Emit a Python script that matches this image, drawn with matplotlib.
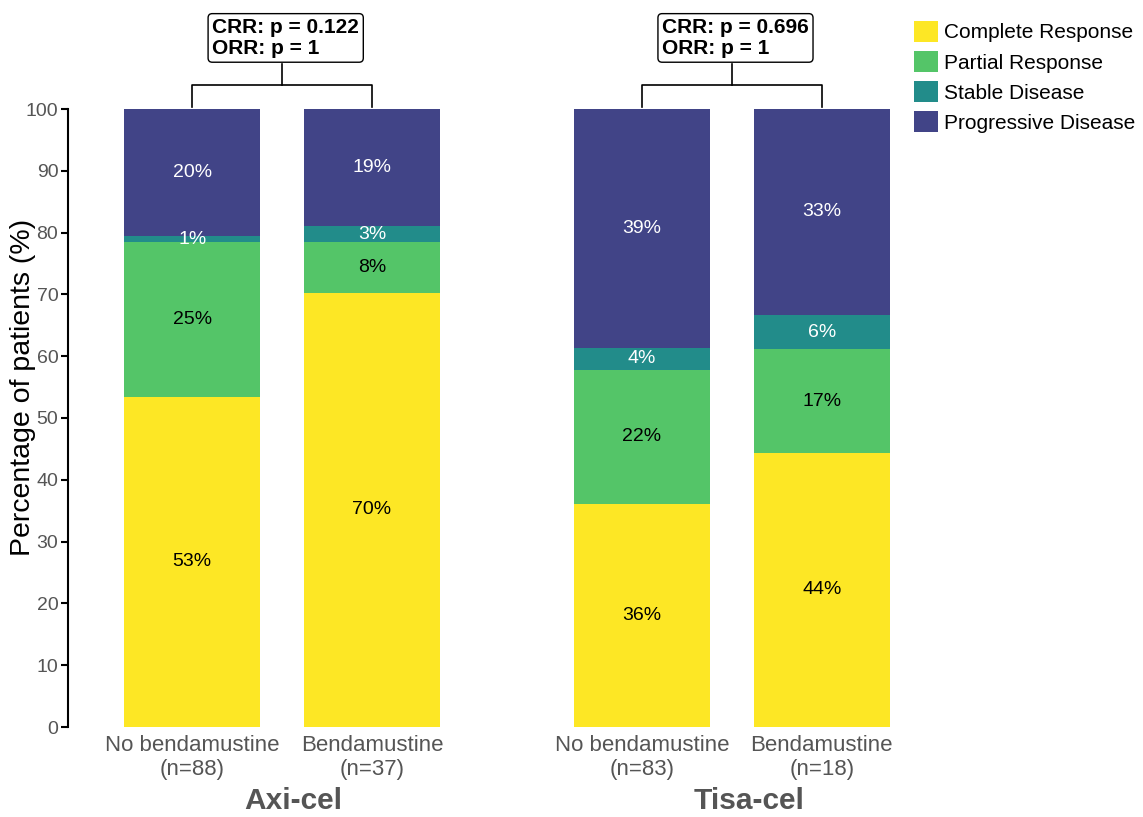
import matplotlib.pyplot as plt
from matplotlib.patches import Patch

plt.rcParams['font.family'] = ['Liberation Sans', 'DejaVu Sans']

categories = ["No bendamustine\n(n=88)", "Bendamustine\n(n=37)",
              "No bendamustine\n(n=83)", "Bendamustine\n(n=18)"]
groups = ["Axi-cel", "Tisa-cel"]
responses = ["Complete Response", "Partial Response", "Stable Disease", "Progressive Disease"]

complete = [53.4, 70.3, 36.1, 44.4]
partial = [25.0, 8.1, 21.7, 16.7]
stable = [1.1, 2.7, 3.6, 5.6]
progressive = [20.5, 18.9, 38.6, 33.3]

labels_cr = ["53%", "70%", "36%", "44%"]
labels_pr = ["25%", "8%", "22%", "17%"]
labels_sd = ["1%", "3%", "4%", "6%"]
labels_pd = ["20%", "19%", "39%", "33%"]

pvals = ["CRR: p = 0.122\nORR: p = 1", "CRR: p = 0.696\nORR: p = 1"]

colors = ["#FDE725", "#54C568", "#228C8A", "#414487"]
text_colors = ["black", "black", "white", "white"]
gray = "#555555"

x = [0, 1, 2.5, 3.5]
width = 0.755

fig = plt.figure(figsize=(11.43, 8.17), dpi=100)
ax = fig.add_axes([68 / 1143, 90 / 817, 842 / 1143, 618 / 817])

series = [complete, partial, stable, progressive]
labels = [labels_cr, labels_pr, labels_sd, labels_pd]
bottom = [0, 0, 0, 0]
for vals, labs, col, tc, name in zip(series, labels, colors, text_colors, responses):
    ax.bar(x, vals, width, bottom=bottom, color=col, label=name)
    for xi, b, v, lab in zip(x, bottom, vals, labs):
        ax.text(xi, b + v / 2, lab, ha='center', va='center',
                color=tc, fontsize=14)
    bottom = [b + v for b, v in zip(bottom, vals)]

ax.set_xlim(-0.69, 3.99)
ax.set_ylim(0, 100)
ax.set_yticks(range(0, 101, 10))
ax.set_xticks(x)
ax.set_xticklabels(categories, fontsize=16, color=gray, linespacing=1.15)
ax.tick_params(axis='y', labelsize=14, labelcolor=gray, length=5, width=1.5, pad=2)
ax.tick_params(axis='x', length=0, pad=6)
for s in ['top', 'right', 'bottom']:
    ax.spines[s].set_visible(False)
ax.spines['left'].set_linewidth(1.5)
ax.set_ylabel("Percentage of patients (%)", fontsize=20.5)
ax.yaxis.set_label_coords(-0.038, 0.549)

# group labels and p-value brackets
for i, (g, p) in enumerate(zip(groups, pvals)):
    x0, x1 = x[2 * i], x[2 * i + 1]
    xm = (x0 + x1) / 2
    ax.text(xm + 0.06 + 0.035 * i, -13.3, g, ha='center', va='baseline', fontsize=21.5,
            fontweight='bold', color=gray, clip_on=False)
    ax.plot([x0, x0, x1, x1], [100.3, 103.9, 103.9, 100.3],
            color='black', lw=1.2, clip_on=False)
    ax.plot([xm, xm], [103.9, 107.3], color='black', lw=1.2, clip_on=False)
    ax.text(xm + 0.02, 111.5, p, ha='center', va='center', fontsize=15,
            fontweight='bold', linespacing=1.15, multialignment='left', clip_on=False,
            bbox=dict(boxstyle='round,pad=0.2', fc='white', ec='black', lw=1))

handles = [Patch(facecolor=c, label=r) for c, r in zip(colors, responses)]
fig.legend(handles=handles, loc='upper left', bbox_to_anchor=(914 / 1143, 1 - 21 / 817),
           frameon=False, fontsize=15, handlelength=1.15, handleheight=1.15,
           handletextpad=0.3, labelspacing=0.42, borderaxespad=0, borderpad=0)

fig.savefig("out.png", dpi=100)
